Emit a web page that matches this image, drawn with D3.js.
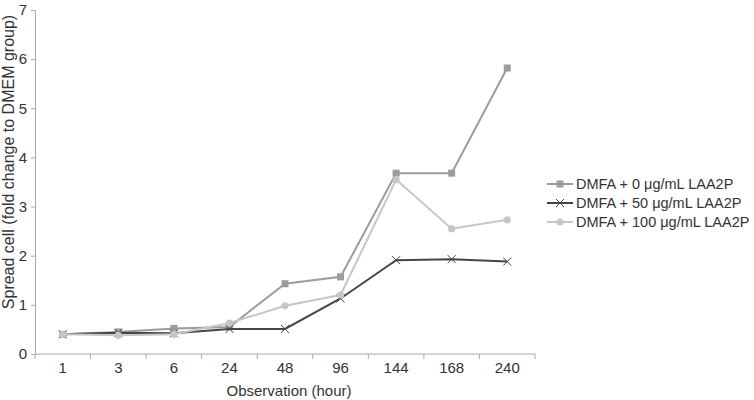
<!DOCTYPE html>
<html>
<head>
<meta charset="utf-8">
<script src="https://cdn.jsdelivr.net/npm/d3@7"></script>
<style>
  body { margin: 0; background: #fff; }
  text { font-family: "Liberation Sans", Arial, sans-serif; }
</style>
</head>
<body>
<script>
// data
const hours = ["1", "3", "6", "24", "48", "96", "144", "168", "240"];
const seriesNames = ["DMFA + 0 μg/mL LAA2P", "DMFA + 50 μg/mL LAA2P", "DMFA + 100 μg/mL LAA2P"];
const laa0 = [0.40, 0.45, 0.52, 0.55, 1.43, 1.57, 3.68, 3.68, 5.82];
const laa50 = [0.40, 0.43, 0.42, 0.51, 0.51, 1.13, 1.91, 1.93, 1.88];
const laa100 = [0.40, 0.38, 0.40, 0.63, 0.98, 1.20, 3.55, 2.55, 2.73];
const yTicks = [0, 1, 2, 3, 4, 5, 6, 7];

const width = 754, height = 400;
const margin = { left: 35, top: 10, right: 219, bottom: 46 };

const svg = d3.select("body").append("svg")
    .attr("width", width)
    .attr("height", height);

const x = d3.scaleBand()
    .domain(hours)
    .range([margin.left, width - margin.right]);

const y = d3.scaleLinear()
    .domain([0, 7])
    .range([height - margin.bottom, margin.top]);

// y axis
const yAxis = svg.append("g")
    .attr("transform", `translate(${margin.left},0)`)
    .call(d3.axisLeft(y).tickValues(yTicks).tickFormat(d3.format("d")).tickSize(4).tickPadding(4));
yAxis.select(".domain").attr("stroke", "#aaa");
yAxis.selectAll(".tick line").attr("stroke", "#aaa");
yAxis.selectAll(".tick text").attr("fill", "#333").style("font-size", "15px");

// x axis, ticks at the category boundaries
const xAxis = svg.append("g")
    .attr("transform", `translate(0,${y(0)})`);
xAxis.append("line")
    .attr("x1", x.range()[0]).attr("x2", x.range()[1])
    .attr("stroke", "#aaa");
xAxis.selectAll(".bound")
    .data(hours.concat(["end"]))
    .enter().append("line")
    .attr("class", "bound")
    .attr("x1", (d, i) => x.range()[0] + i * x.step())
    .attr("x2", (d, i) => x.range()[0] + i * x.step())
    .attr("y1", 0).attr("y2", 5)
    .attr("stroke", "#aaa");
xAxis.selectAll(".lbl")
    .data(hours)
    .enter().append("text")
    .attr("class", "lbl")
    .attr("x", d => x(d) + x.bandwidth() / 2)
    .attr("y", 19)
    .attr("text-anchor", "middle")
    .attr("fill", "#333")
    .style("font-size", "15px")
    .text(d => d);

// axis titles
svg.append("text")
    .attr("x", (x.range()[0] + x.range()[1]) / 2 + 4)
    .attr("y", 396)
    .attr("text-anchor", "middle")
    .attr("fill", "#333")
    .style("font-size", "15px")
    .text("Observation (hour)");

svg.append("text")
    .attr("transform", `translate(14,162) rotate(-90)`)
    .attr("text-anchor", "middle")
    .attr("fill", "#333")
    .style("font-size", "16px")
    .text("Spread cell (fold change to DMEM group)");

// series
const series = [
    { name: seriesNames[0], values: laa0, color: "#9c9c9c", mark: "square" },
    { name: seriesNames[1], values: laa50, color: "#464646", mark: "cross" },
    { name: seriesNames[2], values: laa100, color: "#c6c6c6", mark: "circle" }
];

const line = d3.line()
    .x((d, i) => x(hours[i]) + x.bandwidth() / 2)
    .y(d => y(d));

function drawMark(g, s, cx, cy) {
    if (s.mark === "square") {
        g.append("rect")
            .attr("x", cx - 3.5).attr("y", cy - 3.5)
            .attr("width", 7).attr("height", 7)
            .attr("fill", s.color);
    } else if (s.mark === "cross") {
        g.append("path")
            .attr("d", `M${cx - 4},${cy - 4}L${cx + 4},${cy + 4}M${cx - 4},${cy + 4}L${cx + 4},${cy - 4}`)
            .attr("stroke", s.color)
            .attr("stroke-width", 1);
    } else {
        g.append("circle")
            .attr("cx", cx).attr("cy", cy).attr("r", 3.6)
            .attr("fill", s.color);
    }
}

series.forEach(s => {
    const g = svg.append("g");
    g.append("path")
        .datum(s.values)
        .attr("d", line)
        .attr("fill", "none")
        .attr("stroke", s.color)
        .attr("stroke-width", 2);
    s.values.forEach((v, i) => drawMark(g, s, x(hours[i]) + x.bandwidth() / 2, y(v)));
});

// legend
const legend = svg.append("g").attr("transform", "translate(547,184)");
series.forEach((s, i) => {
    const g = legend.append("g").attr("transform", `translate(0,${i * 19})`);
    g.append("line")
        .attr("x1", 0).attr("x2", 26)
        .attr("stroke", s.color)
        .attr("stroke-width", 2);
    drawMark(g, s, 13, 0);
    g.append("text")
        .attr("x", 29)
        .attr("y", 5)
        .attr("fill", "#333")
        .style("font-size", "14.5px")
        .text(s.name);
});
</script>
</body>
</html>
